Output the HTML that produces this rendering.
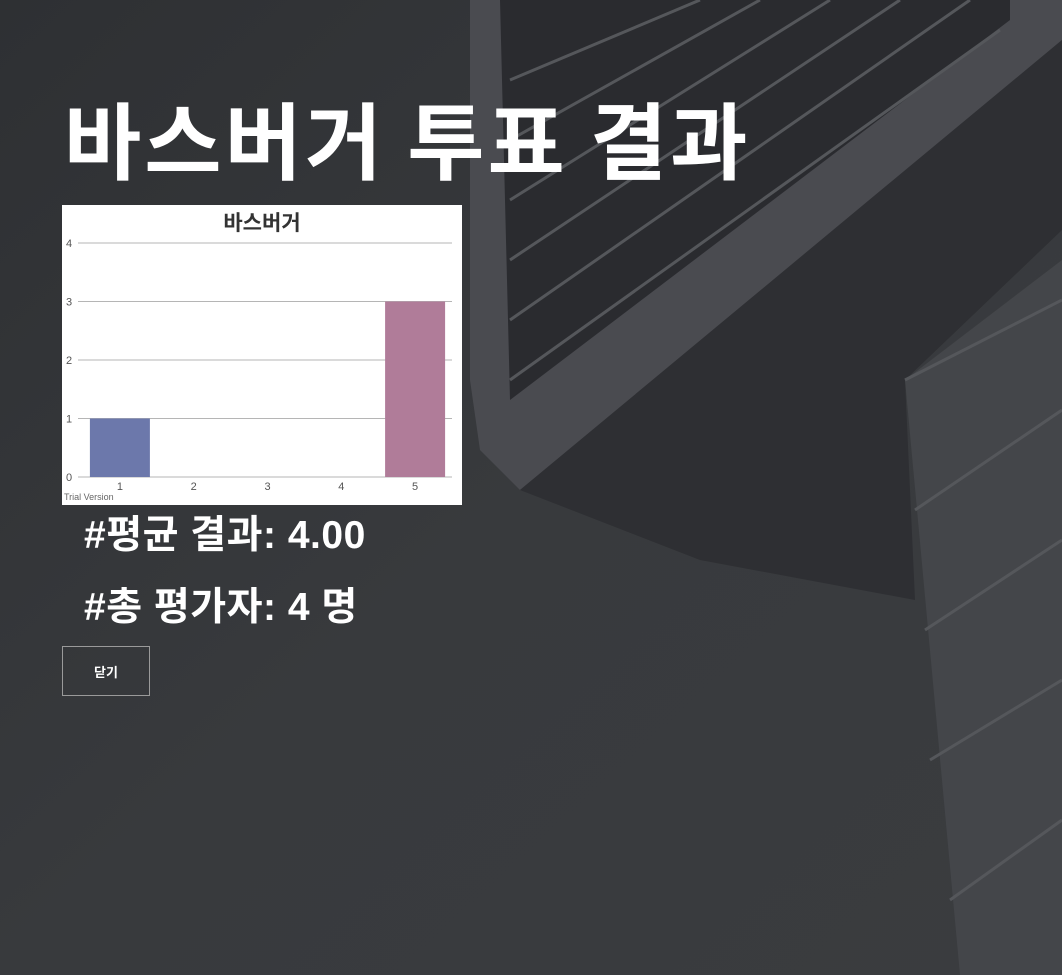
<!DOCTYPE html>
<html><head><meta charset="utf-8"><style>
body{margin:0;width:1062px;height:975px;overflow:hidden;background:#37393c;font-family:"Liberation Sans","Noto Sans CJK KR",sans-serif;position:relative}
#bg{position:absolute;left:0;top:0}
h1{position:absolute;left:64px;top:92px;margin:0;font-size:84px;font-weight:bold;color:#fff;font-family:"Noto Sans CJK KR",sans-serif;letter-spacing:3px;line-height:1.1}
.stat{position:absolute;left:84px;margin:0;font-size:39px;font-weight:bold;color:#fff;font-family:"Liberation Sans","Noto Sans CJK KR",sans-serif;letter-spacing:0.5px}
#close{position:absolute;left:62px;top:646px;width:88px;height:50px;border:1px solid #9a9a9a;background:transparent;color:#fff;font-size:13px;font-weight:bold;font-family:"Noto Sans CJK KR",sans-serif}
#chart{position:absolute;left:62px;top:205px}
</style></head><body>
<svg id="bg" width="1062" height="975">
<defs><linearGradient id="g1" x1="0" y1="0" x2="1" y2="1"><stop offset="0" stop-color="#2e3033"/><stop offset="0.5" stop-color="#383a3d"/><stop offset="1" stop-color="#3a3c3f"/></linearGradient></defs>
<rect width="1062" height="975" fill="url(#g1)"/>
<polygon points="470,0 1062,0 1062,40 520,490 480,450 470,380" fill="#4a4b50"/>
<polygon points="500,0 1010,0 1010,20 510,400" fill="#2a2b2f"/>
<polygon points="520,490 1062,40 1062,230 905,380 915,600 700,560" fill="#2e2f33"/>
<polygon points="905,380 1062,260 1062,975 960,975" fill="#44464a"/>
<g stroke="#55575b" stroke-width="3">
<line x1="510" y1="80" x2="700" y2="0"/><line x1="510" y1="140" x2="760" y2="0"/><line x1="510" y1="200" x2="830" y2="0"/><line x1="510" y1="260" x2="900" y2="0"/><line x1="510" y1="320" x2="970" y2="0"/><line x1="510" y1="380" x2="1000" y2="30"/>
<line x1="905" y1="380" x2="1062" y2="300"/><line x1="915" y1="510" x2="1062" y2="410"/><line x1="925" y1="630" x2="1062" y2="540"/><line x1="930" y1="760" x2="1062" y2="680"/><line x1="950" y1="900" x2="1062" y2="820"/>
</g>
</svg>
<h1>바스버거 투표 결과</h1>
<svg id="chart" width="400" height="300"></svg>
<p class="stat" style="top:504px">#평균 결과: 4.00</p>
<p class="stat" style="top:576px">#총 평가자: 4 명</p>
<button id="close">닫기</button>
<script>
const categories=["1","2","3","4","5"];
const votes=[1,0,0,0,3];
const colors=["#6c78ab","#6c78ab","#6c78ab","#6c78ab","#b07c99"];
const yTicks=[0,1,2,3,4];
const NS="http://www.w3.org/2000/svg";
const svg=document.getElementById('chart');
const X0=21,X1=390,Y0=272,Y1=38,L=16,R=390;
const yMax=4;
const ys=v=>Y0-(v/yMax)*(Y0-Y1);
const step=(X1-X0)/categories.length;
const xc=i=>X0+step*(i+0.5);
function el(t,a){const e=document.createElementNS(NS,t);for(const k in a)e.setAttribute(k,a[k]);svg.appendChild(e);return e;}
el('rect',{x:0,y:0,width:400,height:300,fill:'#fff'});
const title=el('text',{x:200,y:25,'text-anchor':'middle','font-size':21,'font-weight':'bold',fill:'#333','font-family':'Noto Sans CJK KR,sans-serif'});
title.textContent='바스버거';


yTicks.forEach(t=>{
 const l=el('line',{x1:L,x2:R,y1:ys(t),y2:ys(t),stroke:'#b5b5b5','stroke-width':1});
 
 
 const tx=el('text',{x:4,y:ys(t)+4,'font-size':11,fill:'#555','font-family':'Liberation Sans,sans-serif'});
 tx.textContent=t;
 
 
});
votes.forEach((v,i)=>{
 const bw=60;
 const b=el('rect',{x:xc(i)-bw/2,y:ys(v),width:bw,height:Y0-ys(v),fill:colors[i]});
 
 
 const tx=el('text',{x:xc(i),y:Y0+13,'text-anchor':'middle','font-size':11,fill:'#555','font-family':'Liberation Sans,sans-serif'});
 tx.textContent=categories[i];
 
 
});
const tv=el('text',{x:2,y:295,'font-size':9,fill:'#666','font-family':'Liberation Sans,sans-serif'});
tv.textContent='Trial Version';


</script>
</body></html>
